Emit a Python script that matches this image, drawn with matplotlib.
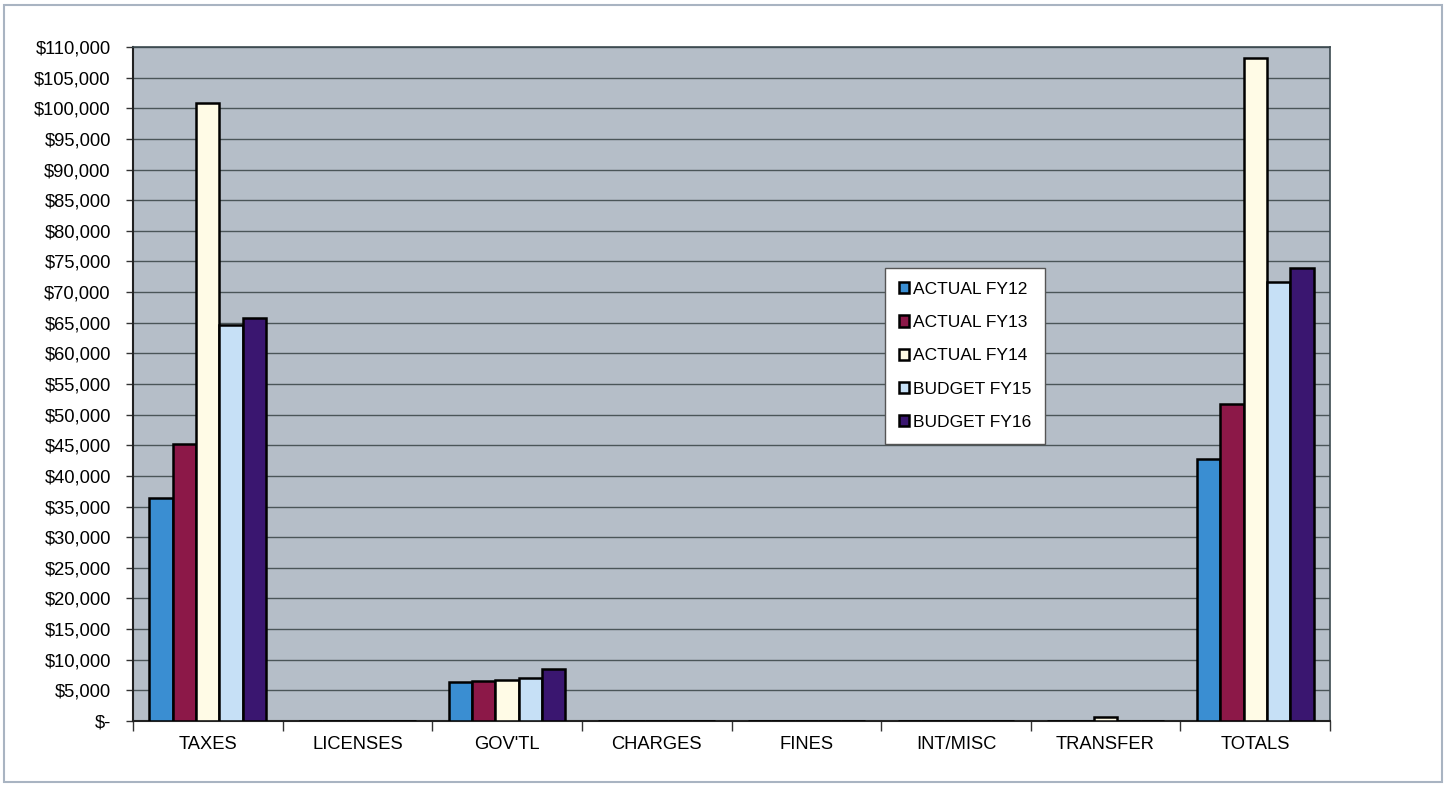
import numpy as np
import matplotlib
matplotlib.use('Agg')
import matplotlib.pyplot as plt
from matplotlib.patches import Rectangle

plt.rcParams['font.family'] = ['Liberation Sans', 'DejaVu Sans']

# Categories and series (values in dollars)
categories = ["TAXES", "LICENSES", "GOV'TL", "CHARGES", "FINES", "INT/MISC", "TRANSFER", "TOTALS"]
series_names = ["ACTUAL FY12", "ACTUAL FY13", "ACTUAL FY14", "BUDGET FY15", "BUDGET FY16"]
actual_fy12 = [36400, 0, 6400, 0, 0, 0, 0, 42800]
actual_fy13 = [45200, 0, 6500, 0, 0, 0, 0, 51700]
actual_fy14 = [100900, 0, 6700, 0, 0, 0, 600, 108200]
budget_fy15 = [64600, 0, 7000, 0, 0, 0, 0, 71600]
budget_fy16 = [65800, 0, 8500, 0, 0, 0, 0, 73900]
series_values = [actual_fy12, actual_fy13, actual_fy14, budget_fy15, budget_fy16]
colors = ["#3a8ed2", "#8c1848", "#fffbe6", "#c6e0f6", "#3a1670"]

yticks = np.arange(0, 110001, 5000)
ytick_labels = ["$-"] + ["${:,}".format(v) for v in yticks[1:]]

fig = plt.figure(figsize=(14.47, 7.86), dpi=100)
ax = fig.add_axes([133 / 1447, 1 - 721 / 786, (1330 - 133) / 1447, (721 - 47) / 786])
ax.set_facecolor("#b5bec8")

# outer chart border
fig.patches.append(Rectangle((4 / 1447, 4 / 786), 1438 / 1447, 777 / 786,
                             transform=fig.transFigure, fill=False,
                             edgecolor="#a9b4c2", linewidth=1.5))

x = np.arange(len(categories))
bw = 0.156
for i, (name, vals) in enumerate(zip(series_names, series_values)):
    offs = (i - 2) * bw
    ax.bar(x + offs, vals, width=bw, color=colors[i], edgecolor="black",
           linewidth=1.8, label=name, zorder=3)

ax.set_xlim(-0.5, len(categories) - 0.5)
ax.set_ylim(0, 110000)
ax.set_yticks(yticks)
ax.set_yticklabels(ytick_labels, fontsize=13.2)
ax.yaxis.grid(True, color="#4a5558", linewidth=1.0, zorder=1)
ax.set_axisbelow(True)

ax.set_xticks(x)
ax.set_xticklabels(categories, fontsize=13.2)
ax.tick_params(axis='x', length=0, pad=11)
ax.set_xticks(np.arange(-0.5, len(categories)), minor=True)
ax.tick_params(axis='x', which='minor', length=7, width=1, color="#333333", direction='out')
ax.tick_params(axis='y', length=5, width=1, color="#333333", direction='out', pad=11)

for side in ['left', 'bottom']:
    ax.spines[side].set_linewidth(1.5)
    ax.spines[side].set_color("#222222")
for side in ['top', 'right']:
    ax.spines[side].set_linewidth(1.2)
    ax.spines[side].set_color("#3c4a50")

leg = ax.legend(loc='upper left', bbox_to_anchor=((885 - 133) / 1197, (721 - 268) / 674),
                fontsize=12.5, frameon=True, fancybox=False, edgecolor="#555555",
                framealpha=1.0, handlelength=0.6, handleheight=0.6, handletextpad=0.2,
                labelspacing=1.05, borderpad=0.8, borderaxespad=0)
leg.get_frame().set_linewidth(1.0)

fig.savefig("out.png", dpi=100)
